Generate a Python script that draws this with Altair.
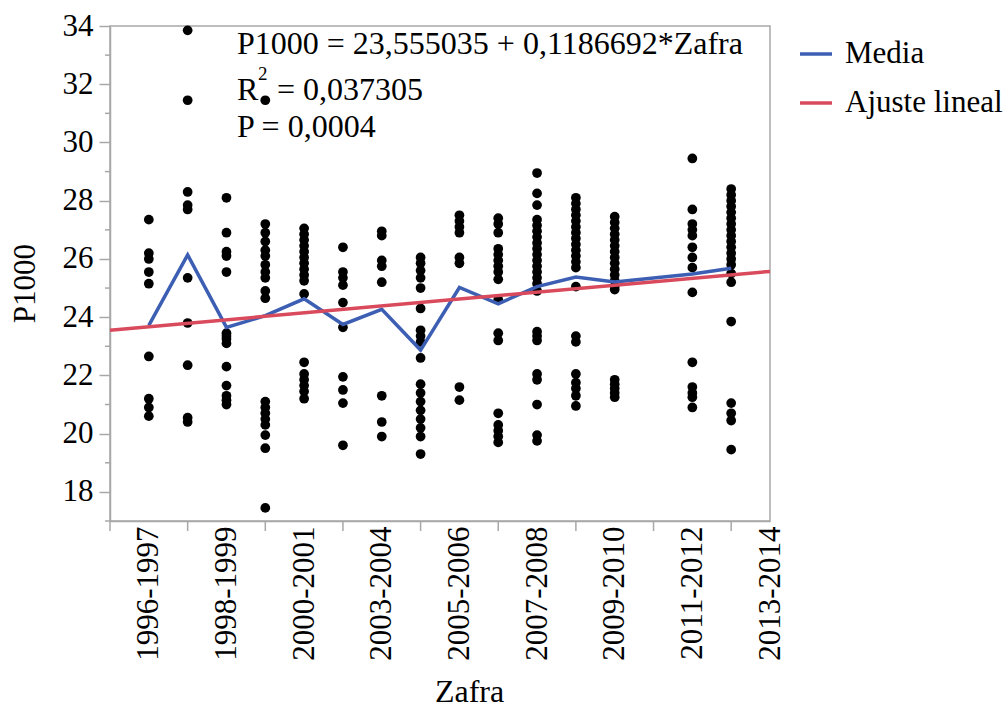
import altair as alt
import pandas as pd

# Zafra index -> season label (only odd positions carry a label)
zafra_labels = ["", "1996-1997", "", "1998-1999", "", "2000-2001", "", "2003-2004",
                "", "2005-2006", "", "2007-2008", "", "2009-2010", "", "2011-2012",
                "", "2013-2014"]
x_label_values = [1, 3, 5, 7, 9, 11, 13, 15, 17]
x_tick_values = [0, 2, 4, 6, 8, 10, 12, 14, 16]
y_label_values = [18, 20, 22, 24, 26, 28, 30, 32, 34]
y_minor_values = [17, 19, 21, 23, 25, 27, 29, 31, 33]

# P1000 observations per zafra index
p1000_z1 = [27.35, 26.2, 26.0, 25.55, 25.15, 22.65, 21.2, 20.9, 20.6]
p1000_z2 = [33.85, 31.45, 28.3, 27.85, 27.7, 25.35, 23.8, 22.35, 20.55, 20.4]
p1000_z3 = [28.1, 26.9, 26.25, 26.1, 25.55, 23.45, 23.35, 23.25, 23.1, 22.3, 21.65,
            21.3, 21.15, 21.0]
p1000_z4 = [31.45, 27.2, 26.9, 26.6, 26.3, 26.1, 25.8, 25.55, 25.35, 24.9, 24.65, 21.1,
            20.9, 20.7, 20.5, 20.3, 19.95, 19.5, 17.45]
p1000_z5 = [27.05, 26.85, 26.65, 26.45, 26.25, 26.05, 25.85, 25.65, 25.45, 25.25, 24.8,
            22.45, 22.05, 21.85, 21.65, 21.45, 21.2]
p1000_z6 = [26.4, 25.55, 25.35, 25.1, 24.5, 23.65, 21.95, 21.5, 21.05, 19.6]
p1000_z7 = [26.95, 26.8, 25.95, 25.75, 25.2, 21.3, 20.4, 19.9]
p1000_z8 = [26.05, 25.85, 25.6, 25.35, 25.0, 24.3, 23.55, 23.35, 23.15, 22.6, 21.7, 21.4,
            21.1, 20.8, 20.5, 20.2, 19.9, 19.3]
p1000_z9 = [27.5, 27.3, 27.1, 26.9, 26.05, 25.85, 21.6, 21.15]
p1000_z10 = [27.4, 27.2, 26.9, 26.35, 26.15, 25.95, 25.75, 25.55, 25.3, 24.6, 23.45, 23.2,
             20.7, 20.3, 20.1, 19.9, 19.7]
p1000_z11 = [28.95, 28.25, 27.85, 27.35, 27.15, 26.95, 26.75, 26.55, 26.35, 26.15, 25.95,
             25.75, 25.55, 25.35, 25.15, 24.9, 23.5, 23.35, 23.2, 22.05, 21.85, 21.0,
             19.95, 19.75]
p1000_z12 = [28.1, 27.9, 27.7, 27.5, 27.3, 27.1, 26.9, 26.7, 26.5, 26.3, 26.1, 25.9, 25.7,
             25.05, 23.35, 23.15, 22.05, 21.75, 21.55, 21.3, 20.95]
p1000_z13 = [27.45, 27.25, 27.05, 26.85, 26.65, 26.45, 26.25, 26.05, 25.85, 25.65, 25.45,
             25.25, 25.05, 24.95, 21.85, 21.7, 21.55, 21.4, 21.25]
p1000_z15 = [29.45, 27.7, 27.2, 27.0, 26.8, 26.4, 26.05, 25.7, 24.85, 22.45, 21.6, 21.4,
             21.25, 20.9]
p1000_z16 = [28.4, 28.2, 28.0, 27.8, 27.6, 27.4, 27.2, 27.0, 26.8, 26.6, 26.4, 26.2, 26.0,
             25.8, 25.5, 25.2, 23.85, 21.05, 20.7, 20.45, 19.45]

observations = {
    1: p1000_z1, 2: p1000_z2, 3: p1000_z3, 4: p1000_z4, 5: p1000_z5, 6: p1000_z6,
    7: p1000_z7, 8: p1000_z8, 9: p1000_z9, 10: p1000_z10, 11: p1000_z11,
    12: p1000_z12, 13: p1000_z13, 15: p1000_z15, 16: p1000_z16,
}

# Mean P1000 per zafra
media_zafra = [1, 2, 3, 4, 5, 6, 7, 8, 9, 10, 11, 12, 13, 15, 16]
media_p1000 = [23.72, 26.14, 23.65, 24.05, 24.63, 23.75, 24.27, 22.87, 25.02, 24.46,
               25.05, 25.38, 25.21, 25.48, 25.68]

# Linear fit
intercept = 23.555035
slope = 0.1186692
fit_zafra = [0, 17]

# Fit summary text pieces (R with a raised 2)
eq_text = "P1000 = 23,555035 + 0,1186692*Zafra"
r2_base = "R"
r2_sup = "2"
r2_value = "= 0,037305"
p_text = "P = 0,0004"

BLUE = "#3D5FB3"
RED = "#D94A5C"
GREY = "#A8A8A8"
FONT = "Liberation Serif"

pts = pd.DataFrame(
    [(z, v) for z, vals in observations.items() for v in vals],
    columns=["zafra", "p1000"],
)
lines = pd.concat([
    pd.DataFrame({"zafra": media_zafra, "p1000": media_p1000, "serie": "Media"}),
    pd.DataFrame({"zafra": fit_zafra,
                  "p1000": [intercept + slope * z for z in fit_zafra],
                  "serie": "Ajuste lineal"}),
], ignore_index=True)

label_array = "[" + ",".join(f"'{s}'" for s in zafra_labels) + "]"

x_scale = alt.Scale(domain=[0, 17], nice=False, zero=False)
y_scale = alt.Scale(domain=[17, 34], nice=False, zero=False)

x_axis = alt.Axis(
    values=x_label_values,
    labelExpr=label_array + "[datum.value]",
    labelAngle=270, labelAlign="right", labelBaseline="middle",
    labelFont=FONT, labelFontSize=31, labelColor="black", labelPadding=5,
    labelOverlap=False, labelFlush=False,
    ticks=False,
    domainColor=GREY, domainWidth=1.5, grid=False,
    titleFont=FONT, titleFontSize=32, titleFontWeight="normal", titleColor="black",
    titleX=359, titleY=180, titleBaseline="alphabetic", titleAlign="center",
)
y_axis = alt.Axis(
    values=y_label_values,
    labelFont=FONT, labelFontSize=31, labelColor="black", labelPadding=6,
    labelOverlap=False, labelFlush=False,
    tickColor=GREY, tickWidth=1.5, tickSize=11,
    domainColor=GREY, domainWidth=1.5, grid=False,
    titleFont=FONT, titleFontSize=31, titleFontWeight="normal", titleColor="black",
    titleX=-76, titleY=257, titleBaseline="alphabetic", titleAlign="center",
)

points = alt.Chart(pts).mark_circle(size=95, color="black", opacity=1).encode(
    x=alt.X("zafra:Q", scale=x_scale, axis=x_axis, title="Zafra"),
    y=alt.Y("p1000:Q", scale=y_scale, axis=y_axis, title="P1000"),
)

# Minor ticks on the y axis and between-label ticks on the x axis
y_minor = alt.Chart(pd.DataFrame({"v": y_minor_values})).mark_rule(
    color=GREY, strokeWidth=1.5
).encode(y=alt.Y("v:Q", scale=y_scale), x=alt.value(-5), x2=alt.value(0))

x_ticks = alt.Chart(pd.DataFrame({"v": x_tick_values})).mark_rule(
    color=GREY, strokeWidth=1.5
).encode(x=alt.X("v:Q", scale=x_scale), y=alt.value(495), y2=alt.value(505))

series = alt.Chart(lines).mark_line(strokeWidth=3.5).encode(
    x=alt.X("zafra:Q", scale=x_scale),
    y=alt.Y("p1000:Q", scale=y_scale),
    color=alt.Color(
        "serie:N",
        scale=alt.Scale(domain=["Media", "Ajuste lineal"], range=[BLUE, RED]),
        legend=alt.Legend(
            title=None, orient="none", legendX=688, legendY=10,
            symbolType="stroke", symbolSize=1024, symbolStrokeWidth=3.5,
            labelFont=FONT, labelFontSize=31, labelColor="black",
            labelOffset=11, rowPadding=16,
        ),
    ),
)


def note(txt, x, y, size=32):
    return alt.Chart(pd.DataFrame({"t": [txt]})).mark_text(
        font=FONT, fontSize=size, color="black", align="left",
        baseline="alphabetic", x=x, y=y,
    ).encode(text="t:N")


text_layers = [
    note(eq_text, 127, 28),
    note(r2_base, 127, 74),
    note(r2_sup, 148, 54, size=19),
    note(r2_value, 167, 74),
    note(p_text, 127, 111),
]

chart = alt.layer(points, y_minor, x_ticks, series, *text_layers).properties(
    width=660, height=495,
    autosize=alt.AutoSizeParams(type="none"),
    padding={"left": 110, "top": 26, "right": 238, "bottom": 194},
    background="white",
).configure(
    font=FONT,
).configure_axis(
    labelFont=FONT, titleFont=FONT,
).configure_legend(
    labelFont=FONT,
).configure_view(stroke=GREY, strokeWidth=1.5)

chart.save("out.html", embed_options={"renderer": "svg", "actions": False})
